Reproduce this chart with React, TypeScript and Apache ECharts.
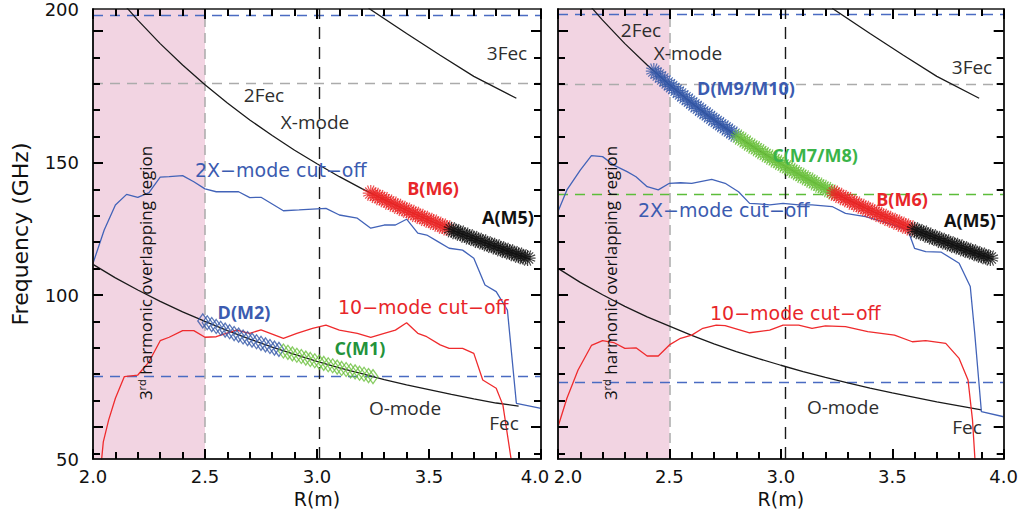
import React, { useEffect, useRef } from "react";
import * as echarts from "echarts";

// ---- axes ----
const R_MIN = 2.0;
const R_MAX = 4.0;
const Y_MIN = 37.9;
const Y_MAX = 208.3;
const Y_MAJOR_TICKS = [50, 100, 150, 200];
const Y_MINOR_TICKS = [40, 60, 70, 80, 90, 110, 120, 130, 140, 160, 170, 180, 190];
// tick labels: the outer two sit at the frame corners
const Y_LABEL_VALUES = [Y_MIN, 100, 150, Y_MAX];
const Y_LABEL_TEXTS = ["50", "100", "150", "200"];

// ---- resonance curves (GHz vs R) ----
const TWO_FEC = [
  [2.13, 210.8], [2.2, 204.1], [2.3, 195.2], [2.4, 187.1], [2.5, 179.6], [2.6, 172.7],
  [2.7, 166.3], [2.8, 160.4], [2.9, 154.8], [3.0, 149.7], [3.1, 144.8], [3.2, 140.3],
  [3.3, 136.1], [3.4, 132.1], [3.5, 128.3], [3.6, 124.7], [3.7, 121.4], [3.8, 118.2],
  [3.9, 115.1], [3.95, 113.7],
];
const THREE_FEC = [[3.23, 208.6], [3.4, 199.0], [3.55, 190.8], [3.7, 182.8], [3.89, 174.5]];
const FEC_LEFT = [
  [2.0, 111.6], [2.1, 106.5], [2.2, 101.9], [2.3, 97.6], [2.4, 93.6], [2.5, 90.0],
  [2.6, 86.5], [2.7, 83.3], [2.8, 80.3], [2.9, 77.5], [3.0, 74.9], [3.1, 72.4],
  [3.2, 70.2], [3.3, 68.0], [3.4, 66.0], [3.5, 64.2], [3.6, 62.4], [3.7, 60.7],
  [3.8, 59.1], [3.9, 57.9],
];
const FEC_RIGHT = [
  [2.0, 110.1], [2.1, 104.8], [2.2, 100.1], [2.3, 95.7], [2.4, 91.7], [2.5, 88.2],
  [2.6, 84.7], [2.7, 81.5], [2.8, 78.6], [2.9, 75.9], [3.0, 73.4], [3.1, 71.0],
  [3.2, 68.8], [3.3, 66.7], [3.4, 64.7], [3.5, 62.9], [3.6, 61.2], [3.7, 59.5],
  [3.8, 58.0], [3.9, 56.5],
];

// ---- cut-off profiles ----
const X2_CUTOFF_LEFT = [
  [2.0, 112.0], [2.05, 124.6], [2.1, 134.1], [2.15, 138.1], [2.2, 137.0], [2.25, 138.8],
  [2.3, 144.6], [2.34, 144.8], [2.4, 145.2], [2.45, 142.9], [2.5, 140.2], [2.55, 139.1],
  [2.65, 139.1], [2.7, 136.9], [2.75, 137.0], [2.85, 131.9], [2.92, 132.2], [3.04, 132.8],
  [3.1, 130.3], [3.18, 129.1], [3.24, 125.3], [3.3, 126.5], [3.35, 126.5], [3.4, 128.7],
  [3.45, 123.4], [3.49, 122.7], [3.54, 120.2], [3.59, 117.7], [3.65, 117.0], [3.7, 113.9],
  [3.75, 103.8], [3.8, 101.3], [3.85, 94.3], [3.89, 59.0], [4.0, 57.1],
];
const O1_CUTOFF_LEFT = [
  [2.037, 36.5], [2.046, 44.4], [2.07, 52.7], [2.1, 60.9], [2.14, 69.1], [2.2, 69.7],
  [2.25, 74.7], [2.3, 82.7], [2.34, 84.0], [2.4, 86.5], [2.45, 86.5], [2.5, 84.0],
  [2.55, 84.2], [2.64, 86.7], [2.7, 85.5], [2.75, 86.8], [2.85, 83.6], [2.91, 85.5],
  [2.98, 87.4], [3.04, 88.6], [3.1, 86.7], [3.18, 85.5], [3.24, 84.0], [3.3, 85.5],
  [3.35, 86.7], [3.4, 89.5], [3.45, 85.5], [3.49, 84.2], [3.55, 81.1], [3.59, 79.8],
  [3.65, 79.8], [3.7, 77.9], [3.74, 67.8], [3.8, 64.7], [3.83, 58.3], [3.869, 36.5],
];
const X2_CUTOFF_RIGHT = [
  [2.0, 131.6], [2.04, 139.8], [2.1, 147.3], [2.15, 152.8], [2.2, 152.4], [2.25, 149.2],
  [2.31, 146.7], [2.35, 144.8], [2.4, 141.0], [2.45, 139.8], [2.5, 142.3], [2.55, 142.5],
  [2.6, 142.3], [2.69, 143.8], [2.75, 142.3], [2.81, 139.1], [2.86, 134.7], [2.9, 134.5],
  [2.95, 134.1], [3.01, 134.7], [3.08, 134.1], [3.14, 134.1], [3.23, 133.5], [3.29, 130.9],
  [3.38, 129.7], [3.48, 127.2], [3.57, 124.6], [3.6, 117.7], [3.65, 116.4], [3.72, 116.2],
  [3.8, 112.0], [3.85, 103.2], [3.87, 85.5], [3.9, 55.8], [4.0, 53.9],
];
const O1_CUTOFF_RIGHT = [
  [2.0, 50.1], [2.04, 60.9], [2.09, 71.6], [2.15, 80.9], [2.2, 82.7], [2.25, 82.0],
  [2.3, 79.8], [2.35, 80.0], [2.4, 76.9], [2.45, 76.9], [2.5, 81.1], [2.55, 83.6],
  [2.6, 84.8], [2.65, 87.4], [2.71, 88.6], [2.75, 88.4], [2.86, 85.7], [2.95, 86.7],
  [3.01, 88.6], [3.08, 88.6], [3.14, 87.4], [3.2, 88.3], [3.29, 88.0], [3.39, 86.1],
  [3.51, 84.8], [3.59, 82.3], [3.65, 82.7], [3.74, 81.7], [3.8, 76.0], [3.84, 67.8],
  [3.86, 52.7], [3.872, 36.5],
];

// ---- ECE channel positions per module ----
const CH_A_M5 = [
  [3.6, 124.7], [3.62, 124.0], [3.64, 123.4], [3.66, 122.7], [3.68, 122.0], [3.7, 121.4],
  [3.72, 120.7], [3.74, 120.1], [3.76, 119.4], [3.78, 118.8], [3.8, 118.2], [3.82, 117.5],
  [3.84, 116.9], [3.86, 116.3], [3.88, 115.7], [3.9, 115.1], [3.92, 114.5], [3.94, 114.0],
];
const CH_B_M6 = [
  [3.24, 138.6], [3.26, 137.7], [3.28, 136.9], [3.3, 136.1], [3.32, 135.2], [3.34, 134.4],
  [3.36, 133.6], [3.38, 132.8], [3.4, 132.1], [3.42, 131.3], [3.44, 130.5], [3.46, 129.8],
  [3.48, 129.0], [3.5, 128.3], [3.52, 127.6], [3.54, 126.8], [3.56, 126.1], [3.58, 125.4],
];
const CH_D_M2 = [
  [2.49, 90.2], [2.51, 89.5], [2.53, 88.8], [2.55, 88.1], [2.57, 87.4], [2.59, 86.7],
  [2.61, 86.1], [2.63, 85.4], [2.65, 84.8], [2.67, 84.1], [2.69, 83.5], [2.71, 82.9],
  [2.73, 82.3], [2.75, 81.7], [2.77, 81.1], [2.79, 80.5], [2.81, 79.9], [2.83, 79.4],
];
const CH_C_M1 = [
  [2.85, 78.8], [2.87, 78.3], [2.89, 77.7], [2.91, 77.2], [2.93, 76.7], [2.95, 76.1],
  [2.97, 75.6], [2.99, 75.1], [3.01, 74.6], [3.03, 74.1], [3.05, 73.6], [3.07, 73.2],
  [3.09, 72.7], [3.11, 72.2], [3.13, 71.8], [3.15, 71.3], [3.17, 70.9], [3.19, 70.4],
  [3.21, 70.0], [3.23, 69.5], [3.25, 69.1],
];
const CH_D_M9_M10 = [
  [2.43, 184.8], [2.45, 183.3], [2.47, 181.8], [2.49, 180.3], [2.51, 178.9], [2.53, 177.5],
  [2.55, 176.1], [2.57, 174.7], [2.59, 173.4], [2.61, 172.0], [2.63, 170.7], [2.65, 169.4],
  [2.67, 168.2], [2.69, 166.9], [2.71, 165.7], [2.73, 164.5], [2.75, 163.3], [2.77, 162.1],
  [2.79, 160.9],
];
const CH_C_M7_M8 = [
  [2.81, 159.8], [2.83, 158.7], [2.85, 157.5], [2.87, 156.4], [2.89, 155.4], [2.91, 154.3],
  [2.93, 153.2], [2.95, 152.2], [2.97, 151.2], [2.99, 150.2], [3.01, 149.2], [3.03, 148.2],
  [3.05, 147.2], [3.07, 146.3], [3.09, 145.3], [3.11, 144.4], [3.13, 143.5], [3.15, 142.5],
  [3.17, 141.6], [3.19, 140.8], [3.21, 139.9], [3.23, 139.0],
];

// ---- reference levels ----
const LEFT_H_LINES = [206.1, 180.2, 69.1];
const RIGHT_H_LINES = [206.4, 179.9, 138.3, 66.8];
const OVERLAP_REGION = [2.0, 2.5];
const LEFT_V_LINE = 3.01;
const RIGHT_V_LINE = 3.02;

// ---- colours & fonts ----
const INK = "#1a1a1a";
const BLUE_LINE = "#4263b8";
const RED_LINE = "#ef2b2d";
const BLUE_DASH = "#4a6bc2";
const GRAY_DASH = "#ababab";
const GREEN_DASH = "#5cbd3a";
const PINK = "#f2d4e2";
const BLUE_MARK = "#3357a8";
const RED_MARK = "#ea2626";
const GREEN_MARK = "#6cc03d";
const BLUE_TEXT = "#3b5bb0";
const RED_TEXT = "#e8262a";
const GREEN_TEXT_L = "#23933b";
const GREEN_TEXT_R = "#3ab449";
const NOTE_GRAY = "#2e2e2e";
const FONT_AXIS = "'DejaVu Sans', sans-serif";
const FONT_NOTE = "'Open Sans', sans-serif";

const ASTERISK =
  "path://M10 0L10 20M0 10L20 10M3 3L17 17M3 17L17 3M6 0.5L14 19.5M14 0.5L6 19.5M0.5 6L19.5 14M0.5 14L19.5 6";

const GRIDS = [
  { left: 93, top: 9, width: 448, height: 450 },
  { left: 558, top: 9, width: 448, height: 450 },
];

const AXIS_Z = 10;
const FRAME = { show: true, onZero: false, lineStyle: { color: INK, width: 1.5 } };
const TICK_STYLE = { color: "#000000", width: 2 };

// per grid: [labelled bottom axis, bottom ticks, top ticks]
function xAxesFor(gridIndex: number) {
  const base = {
    type: "value",
    gridIndex,
    min: R_MIN,
    max: R_MAX,
    interval: 0.5,
    z: AXIS_Z,
    splitLine: { show: false },
    axisLine: FRAME,
  };
  const ticks = {
    axisTick: { show: true, inside: true, length: 10, lineStyle: TICK_STYLE },
    minorTick: { show: true, splitNumber: 5, length: 7, lineStyle: TICK_STYLE },
    axisLabel: { show: false },
  };
  return [
    {
      ...base,
      position: "bottom",
      axisTick: { show: false },
      axisLabel: {
        fontSize: 18,
        fontFamily: FONT_AXIS,
        color: "#111",
        margin: 8,
        // the shared edge labels of the two panels are nudged apart
        formatter: (v: number) => {
          if (gridIndex === 0 && v === R_MAX) return "{e|4.0}";
          if (gridIndex === 1 && v === R_MIN) return "{s|2.0}";
          return v.toFixed(1);
        },
        rich: {
          e: { fontSize: 18, fontFamily: FONT_AXIS, color: "#111", padding: [0, 12, 0, 0] },
          s: { fontSize: 18, fontFamily: FONT_AXIS, color: "#111", padding: [0, 0, 0, 20] },
        },
      },
      name: "R(m)",
      nameLocation: "middle",
      nameGap: 29,
      nameTextStyle: { fontSize: 19, fontFamily: FONT_AXIS, color: "#111" },
    },
    { ...base, ...ticks, position: "bottom" },
    { ...base, ...ticks, position: "top" },
  ];
}

// per grid: [labelled left axis, left major, left minor, right major, right minor]
function yAxesFor(gridIndex: number, withLabels: boolean) {
  const base = {
    type: "value",
    gridIndex,
    min: Y_MIN,
    max: Y_MAX,
    offset: 0,
    z: AXIS_Z,
    splitLine: { show: false },
    axisLine: FRAME,
  };
  const tickAxis = (position: string, values: number[], length: number) => ({
    ...base,
    position,
    axisTick: { show: true, inside: true, length, customValues: values, lineStyle: TICK_STYLE },
    axisLabel: { show: false },
  });
  const labelled = {
    ...base,
    position: "left",
    axisTick: { show: false },
    axisLabel: withLabels
      ? {
          show: true,
          customValues: Y_LABEL_VALUES,
          fontSize: 18,
          fontFamily: FONT_AXIS,
          color: "#111",
          margin: 14,
          formatter: (v: number) => {
            const i = Y_LABEL_VALUES.findIndex((u) => Math.abs(u - v) < 1e-6);
            return i >= 0 ? Y_LABEL_TEXTS[i] : "";
          },
        }
      : { show: false },
    ...(withLabels
      ? {
          name: "Frequency (GHz)",
          nameLocation: "middle",
          nameRotate: 90,
          nameGap: 62,
          nameTextStyle: { fontSize: 22, fontFamily: FONT_AXIS, color: "#111" },
        }
      : {}),
  };
  return [
    labelled,
    tickAxis("left", Y_MAJOR_TICKS, 10),
    tickAxis("left", Y_MINOR_TICKS, 7),
    tickAxis("right", Y_MAJOR_TICKS, 10),
    tickAxis("right", Y_MINOR_TICKS, 7),
  ];
}

function curve(data: number[][], color: string, xi: number, yi: number, extra: any = {}) {
  return {
    type: "line",
    data,
    xAxisIndex: xi,
    yAxisIndex: yi,
    symbol: "none",
    showSymbol: false,
    silent: true,
    z: 3,
    lineStyle: { color, width: 1.3 },
    itemStyle: { color },
    ...extra,
  };
}

function asterisks(data: number[][], color: string, xi: number, yi: number) {
  return {
    type: "scatter",
    data,
    xAxisIndex: xi,
    yAxisIndex: yi,
    silent: true,
    z: 4,
    symbol: ASTERISK,
    symbolSize: 16,
    itemStyle: { color, borderColor: color, borderWidth: 1.2 },
  };
}

function diamonds(data: number[][], color: string, xi: number, yi: number) {
  return {
    type: "scatter",
    data,
    xAxisIndex: xi,
    yAxisIndex: yi,
    silent: true,
    z: 4,
    symbol: "diamond",
    symbolSize: [10, 14],
    itemStyle: { color: "rgba(255,255,255,0)", borderColor: color, borderWidth: 1.3 },
  };
}

function guides(hLines: number[], hColors: string[], vLine: number) {
  return {
    markArea: {
      silent: true,
      z: 1,
      itemStyle: { color: PINK },
      data: [[{ xAxis: OVERLAP_REGION[0] }, { xAxis: OVERLAP_REGION[1] }]],
    },
    markLine: {
      silent: true,
      z: 2,
      symbol: ["none", "none"],
      label: { show: false },
      data: [
        ...hLines.map((v, i) => ({
          yAxis: v,
          lineStyle: { color: hColors[i], type: [10, 7], width: 1.3 },
        })),
        { xAxis: OVERLAP_REGION[1], lineStyle: { color: GRAY_DASH, type: [10, 6], width: 1.5 } },
        { xAxis: vLine, lineStyle: { color: INK, type: [12, 8], width: 1.4 } },
      ],
    },
  };
}

function note(text: string, x: number, y: number, o: any = {}) {
  return {
    type: "text",
    x,
    y,
    z: 20,
    silent: true,
    style: {
      text,
      fontFamily: o.family || FONT_NOTE,
      fontSize: o.size || 19,
      fontWeight: o.weight || "normal",
      fill: o.color || NOTE_GRAY,
      align: o.align || "center",
      verticalAlign: "middle",
    },
  };
}

function bold(text: string, x: number, y: number, color: string) {
  return note(text, x, y, { weight: "bold", size: 18, color });
}

function overlapNote(x: number) {
  return {
    type: "text",
    x,
    y: 273,
    z: 20,
    silent: true,
    rotation: Math.PI / 2,
    style: {
      text: "{n|3}{s|rd} harmonic overlapping region",
      fontFamily: FONT_NOTE,
      fontSize: 17,
      fill: "#111",
      align: "center",
      verticalAlign: "middle",
      rich: {
        n: { fontFamily: FONT_NOTE, fontSize: 17, fill: "#111" },
        s: { fontFamily: FONT_NOTE, fontSize: 11, fill: "#111", padding: [0, 0, 7, 0] },
      },
    },
  };
}

export default function App() {
  const ref = useRef<HTMLDivElement>(null);

  useEffect(() => {
    if (!ref.current) return;
    const chart = echarts.init(ref.current, undefined, { renderer: "svg" });

    const L = { x: 0, y: 0 };
    const R = { x: 3, y: 5 };

    const series: any[] = [
      // left panel
      curve(FEC_LEFT, INK, L.x, L.y, guides(LEFT_H_LINES, [BLUE_DASH, GRAY_DASH, BLUE_DASH], LEFT_V_LINE)),
      curve(TWO_FEC, INK, L.x, L.y),
      curve(THREE_FEC, INK, L.x, L.y),
      curve(X2_CUTOFF_LEFT, BLUE_LINE, L.x, L.y),
      curve(O1_CUTOFF_LEFT, RED_LINE, L.x, L.y),
      diamonds(CH_D_M2, BLUE_MARK, L.x, L.y),
      diamonds(CH_C_M1, GREEN_MARK, L.x, L.y),
      asterisks(CH_B_M6, RED_MARK, L.x, L.y),
      asterisks(CH_A_M5, "#111111", L.x, L.y),
      // right panel
      curve(
        FEC_RIGHT,
        INK,
        R.x,
        R.y,
        guides(RIGHT_H_LINES, [BLUE_DASH, GRAY_DASH, GREEN_DASH, BLUE_DASH], RIGHT_V_LINE)
      ),
      curve(TWO_FEC, INK, R.x, R.y),
      curve(THREE_FEC, INK, R.x, R.y),
      curve(X2_CUTOFF_RIGHT, BLUE_LINE, R.x, R.y),
      curve(O1_CUTOFF_RIGHT, RED_LINE, R.x, R.y),
      asterisks(CH_D_M9_M10, BLUE_MARK, R.x, R.y),
      asterisks(CH_C_M7_M8, GREEN_MARK, R.x, R.y),
      asterisks(CH_B_M6, RED_MARK, R.x, R.y),
      asterisks(CH_A_M5, "#111111", R.x, R.y),
    ];

    const cutoffFont = { family: FONT_AXIS, size: 19, align: "left" };

    chart.setOption({
      animation: false,
      backgroundColor: "#ffffff",
      grid: GRIDS,
      xAxis: [...xAxesFor(0), ...xAxesFor(1)],
      yAxis: [...yAxesFor(0, true), ...yAxesFor(1, false)],
      series,
      graphic: [
        // left panel notes
        note("3Fec", 507, 53),
        note("2Fec", 264, 95),
        note("X-mode", 315, 122),
        note("2X\u2212mode cut\u2212off", 195, 170, { ...cutoffFont, color: BLUE_TEXT }),
        bold("B(M6)", 433, 188, RED_TEXT),
        bold("A(M5)", 508, 217, "#111111"),
        bold("D(M2)", 244, 312, BLUE_TEXT),
        note("10\u2212mode cut\u2212off", 338, 307, { ...cutoffFont, color: RED_TEXT }),
        bold("C(M1)", 360, 348, GREEN_TEXT_L),
        note("O-mode", 405, 408),
        note("Fec", 504, 423),
        overlapNote(145),
        // right panel notes
        note("2Fec", 641, 30),
        note("X-mode", 688, 53),
        note("3Fec", 972, 67),
        bold("D(M9/M10)", 746, 88, BLUE_TEXT),
        bold("C(M7/M8)", 815, 155, GREEN_TEXT_R),
        bold("B(M6)", 902, 199, RED_TEXT),
        bold("A(M5)", 970, 220, "#111111"),
        note("2X\u2212mode cut\u2212off", 638, 210, { ...cutoffFont, color: BLUE_TEXT }),
        note("10\u2212mode cut\u2212off", 710, 313, { ...cutoffFont, color: RED_TEXT }),
        note("O-mode", 843, 407),
        note("Fec", 967, 427),
        overlapNote(610),
      ],
    });

    return () => chart.dispose();
  }, []);

  return (
    <div
      ref={ref}
      style={{ position: "absolute", left: 0, top: 0, width: 1021, height: 515, background: "#fff" }}
    />
  );
}
